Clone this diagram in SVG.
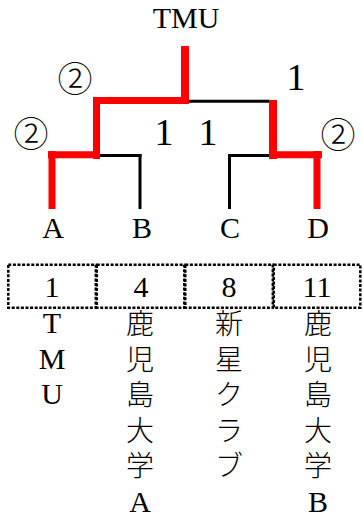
<svg xmlns="http://www.w3.org/2000/svg" width="363" height="520" viewBox="0 0 363 520">
<style>
.t{font-family:"Liberation Serif","Noto Sans CJK JP",serif;font-size:30px;fill:#000;text-anchor:middle}
.s{font-family:"Liberation Serif",serif;font-size:38px;fill:#000;text-anchor:middle}
.j{font-family:"Liberation Serif","Noto Sans CJK JP",serif;font-size:28px;fill:#000;text-anchor:middle;font-weight:300}
.c{font-family:"Noto Sans CJK JP",sans-serif;font-size:35px;fill:#000;text-anchor:middle;font-weight:300}
.r{stroke:#ff0000;fill:none;stroke-linecap:butt}
.k{stroke:#000;stroke-width:3;fill:none;stroke-linecap:butt}
.box{fill:none;stroke:#000;stroke-width:2.5;stroke-dasharray:3 1.6}
</style>
<rect width="363" height="520" fill="#fff"/>
<g id="connectors">
<line class="k" x1="189" y1="101.3" x2="270" y2="101.3"/>
<line class="k" x1="99" y1="155.5" x2="141.5" y2="155.5"/>
<line class="k" x1="140" y1="154" x2="140" y2="209"/>
<line class="k" x1="228" y1="155.5" x2="270" y2="155.5"/>
<line class="k" x1="229.5" y1="154" x2="229.5" y2="209"/>
<line class="r" stroke-width="8" x1="185" y1="46" x2="185" y2="104"/>
<line class="r" stroke-width="7" x1="93" y1="100.5" x2="189" y2="100.5"/>
<line class="r" stroke-width="7" x1="96.5" y1="97" x2="96.5" y2="159"/>
<line class="r" stroke-width="7" x1="48" y1="154.7" x2="100" y2="154.7"/>
<line class="r" stroke-width="7" x1="52" y1="151" x2="52" y2="209"/>
<line class="r" stroke-width="8" x1="273" y1="100" x2="273" y2="159"/>
<line class="r" stroke-width="7" x1="269" y1="154.7" x2="322" y2="154.7"/>
<line class="r" stroke-width="7" x1="317" y1="151" x2="317" y2="209"/>
</g>
<g id="scores">
<text class="c" x="75" y="91.5">②</text>
<text class="c" x="31" y="147">②</text>
<text class="c" x="338" y="148">②</text>
<text class="s" x="296" y="90">1</text>
<text class="s" x="164" y="145">1</text>
<text class="s" x="208" y="145">1</text>
</g>
<g id="node-TMU"><text class="t" x="186" y="28">TMU</text></g>
<g id="node-A"><text class="t" x="53" y="238">A</text></g>
<g id="node-B"><text class="t" x="142" y="238">B</text></g>
<g id="node-C"><text class="t" x="230" y="238">C</text></g>
<g id="node-D"><text class="t" x="318" y="238">D</text></g>
<g id="team-1">
<rect class="box" x="8.3" y="264.7" width="87.5" height="43"/>
<text class="t" x="52" y="297">1</text>
<text class="t" x="52" y="333"><tspan x="52">T</tspan><tspan x="52" dy="35.5">M</tspan><tspan x="52" dy="35.5">U</tspan></text>
</g>
<g id="team-4">
<rect class="box" x="96.8" y="264.7" width="87.5" height="43"/>
<text class="t" x="141" y="297">4</text>
<text class="j" x="140" y="334"><tspan x="140">鹿</tspan><tspan x="140" dy="35.5">児</tspan><tspan x="140" dy="35.5">島</tspan><tspan x="140" dy="35.5">大</tspan><tspan x="140" dy="35.5">学</tspan><tspan x="140" dy="35.5" style="font-size:30px;font-weight:400">A</tspan></text>
</g>
<g id="team-8">
<rect class="box" x="185.3" y="264.7" width="87.5" height="43"/>
<text class="t" x="229" y="297">8</text>
<text class="j" x="229" y="334"><tspan x="229">新</tspan><tspan x="229" dy="35.5">星</tspan><tspan x="229" dy="35.5">ク</tspan><tspan x="229" dy="35.5">ラ</tspan><tspan x="229" dy="35.5">ブ</tspan></text>
</g>
<g id="team-11">
<rect class="box" x="273.8" y="264.7" width="86.5" height="43"/>
<text class="t" x="317" y="297">11</text>
<text class="j" x="318" y="334"><tspan x="318">鹿</tspan><tspan x="318" dy="35.5">児</tspan><tspan x="318" dy="35.5">島</tspan><tspan x="318" dy="35.5">大</tspan><tspan x="318" dy="35.5">学</tspan><tspan x="318" dy="35.5" style="font-size:30px;font-weight:400">B</tspan></text>
</g>
</svg>
